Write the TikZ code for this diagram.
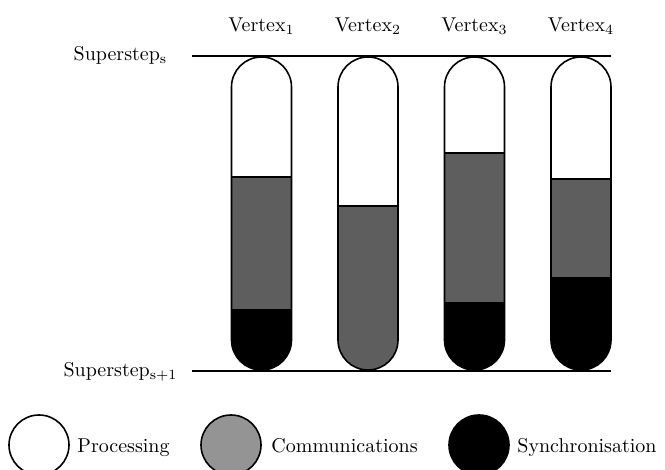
\documentclass[tikz,border=0pt]{standalone}
\colorlet{tubegray}{black!63}
\colorlet{leggray}{black!42}
\begin{document}
\begin{tikzpicture}[x=0.5pt,y=-0.5pt,
  lbl/.style={inner sep=0pt, font=\fontsize{10}{12}\selectfont},
  tubeline/.style={line width=0.8pt, rounded corners=15pt},
  sepline/.style={line width=1pt},
  stepline/.style={line width=1pt},
  legc/.style={circle, draw, line width=0.8pt, minimum size=30pt, inner sep=0pt}]
\useasboundingbox (0,0) rectangle (665,470);

% tubes
\foreach \cx/\g/\b in {261.5/177/309, 368/206/400, 474.5/153/302, 581/179/277}{
  \begin{scope}
    \clip[rounded corners=15pt] (\cx-30,57) rectangle (\cx+30,370);
    \fill[white] (\cx-30,57) rectangle (\cx+30,370);
    \fill[tubegray] (\cx-30,\g) rectangle (\cx+30,370);
    \fill[black] (\cx-30,\b) rectangle (\cx+30,370);
    \draw[sepline] (\cx-30,\g) -- (\cx+30,\g);
  \end{scope}
  \draw[tubeline] (\cx-30,57) rectangle (\cx+30,370);
}

% superstep lines
\coordinate (t0) at (192,56);
\coordinate (t1) at (611,56);
\coordinate (b0) at (192,371.5);
\coordinate (b1) at (611,371.5);
\draw[stepline] (t0) -- (t1);
\draw[stepline] (b0) -- (b1);

% labels
\node[lbl, anchor=base] (v1) at (261.5,31.5) {Vertex$_1$};
\node[lbl, anchor=base] (v2) at (368,31.5) {Vertex$_2$};
\node[lbl, anchor=base] (v3) at (474.5,31.5) {Vertex$_3$};
\node[lbl, anchor=base] (v4) at (581,31.5) {Vertex$_4$};
\node[lbl, anchor=base] (ss) at (120.5,61) {Superstep$_\mathrm{s}$};
\node[lbl, anchor=base] (ss1) at (120.5,377) {Superstep$_{\mathrm{s}\mathrm{+}\mathrm{1}}$};

% legend
\node[legc, fill=white] (lp) at (39,445) {};
\node[legc, fill=leggray] (lc) at (231,445) {};
\node[legc, fill=black] (ls) at (479,445) {};
\node[lbl, anchor=base west] (tp) at (77,453) {Processing};
\node[lbl, anchor=base west] (tc) at (271,453) {Communications};
\node[lbl, anchor=base west] (ts) at (517,453) {Synchronisation};
\end{tikzpicture}
\end{document}
